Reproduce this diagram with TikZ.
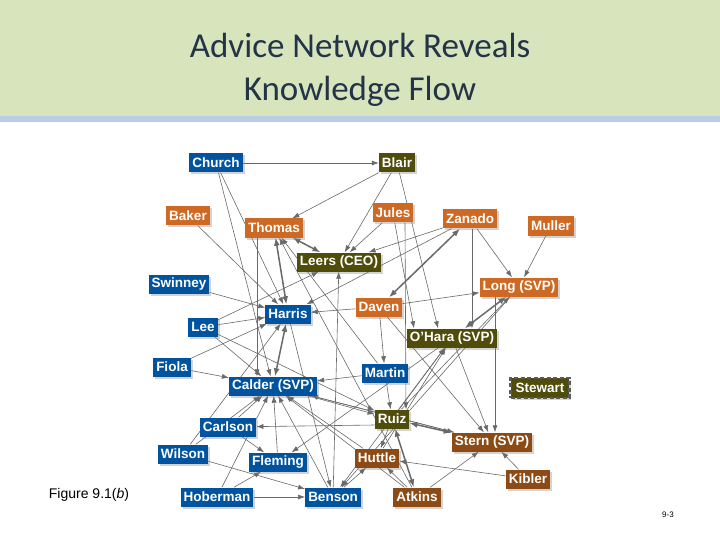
\documentclass[tikz,border=0pt]{standalone}
\usepackage{fontspec}
\setmainfont{Liberation Sans}
\newfontfamily\titlefont{Carlito}
\usepackage{tikz}
\usetikzlibrary{arrows.meta}
\usetikzlibrary{shadows}
\usetikzlibrary{backgrounds}

\definecolor{advblue}{RGB}{0,84,159}
\definecolor{advorange}{RGB}{205,105,35}
\definecolor{advbrown}{RGB}{140,75,20}
\definecolor{advolive}{RGB}{80,76,10}
\definecolor{titleband}{RGB}{216,228,188}
\definecolor{titlerule}{RGB}{185,205,228}
\definecolor{titleink}{RGB}{35,52,72}
\definecolor{linkgray}{RGB}{105,105,105}

\begin{document}
\begin{tikzpicture}[x=1pt, y=-1pt,
    person/.style={text=white, inner xsep=3pt, inner ysep=0pt, minimum height=19pt,
        font=\fontsize{13.5}{15}\selectfont\bfseries,
        drop shadow={opacity=0.35, shadow xshift=2pt, shadow yshift=-2pt}},
    bluebox/.style={person, fill=advblue},
    orangebox/.style={person, fill=advorange},
    brownbox/.style={person, fill=advbrown},
    olivebox/.style={person, fill=advolive},
    advice/.style={-{Latex[length=7pt,width=5pt]}, linkgray, line width=0.6pt},
    mutual/.style={{Latex[length=8pt,width=6pt]}-{Latex[length=8pt,width=6pt]}, linkgray, line width=1.5pt}]

\useasboundingbox (0,0) rectangle (720,540);

% --- 1. TITLE BAND ---
\fill[titleband] (0,0) rectangle (720,116);
\fill[titlerule] (0,116) rectangle (720,122);
\node[titleink, align=center, font=\titlefont\fontsize{35}{43}\selectfont] (title) at (360,70)
    {Advice Network Reveals\\Knowledge Flow};

% --- 2. PEOPLE ---
\node[bluebox] (church) at (216,163) {Church};
\node[olivebox] (blair) at (397,163) {Blair};
\node[orangebox] (baker) at (188,216) {Baker};
\node[orangebox] (jules) at (393,213) {Jules};
\node[orangebox] (thomas) at (274,228) {Thomas};
\node[orangebox] (zanado) at (470,219) {Zanado};
\node[orangebox] (muller) at (551,226) {Muller};
\node[olivebox] (leers) at (339,262) {Leers (CEO)};
\node[bluebox] (swinney) at (179,284) {Swinney};
\node[orangebox] (long) at (519,287) {Long (SVP)};
\node[bluebox] (harris) at (288,314) {Harris};
\node[orangebox] (daven) at (379,307) {Daven};
\node[bluebox] (lee) at (203,327) {Lee};
\node[olivebox] (ohara) at (452,338) {O'Hara (SVP)};
\node[bluebox] (fiola) at (172,367) {Fiola};
\node[bluebox] (martin) at (385,373) {Martin};
\node[bluebox] (calder) at (273,386) {Calder (SVP)};
\node[olivebox, draw=gray!70!black, dash pattern=on 4pt off 2.5pt, line width=2.5pt,
      minimum height=20pt, inner xsep=5pt] (stewart) at (540,388) {Stewart};
\node[olivebox] (ruiz) at (392,419) {Ruiz};
\node[bluebox] (carlson) at (228,427) {Carlson};
\node[brownbox] (stern) at (492,442) {Stern (SVP)};
\node[bluebox] (wilson) at (183,454) {Wilson};
\node[bluebox] (fleming) at (278,462) {Fleming};
\node[brownbox] (huttle) at (377,458) {Huttle};
\node[brownbox] (kibler) at (528,479) {Kibler};
\node[bluebox] (hoberman) at (217,497) {Hoberman};
\node[bluebox] (benson) at (333,497) {Benson};
\node[brownbox] (atkins) at (417,497) {Atkins};

% --- 3. ADVICE TIES (behind the boxes) ---
\begin{scope}[on background layer]
    % upper part
    \draw[advice] (church) -- (blair);
    \draw[advice] (blair) -- (thomas);
    \draw[advice] (blair) -- (leers);
    \draw[advice] (jules) -- (leers);
    \draw[advice] (zanado) -- (leers);
    \draw[advice] (zanado) -- (harris);
    \draw[advice] (church) -- (harris);
    \draw[advice] (church) -- (calder);
    \draw[advice] (baker) -- (harris);
    \draw[advice] (swinney) -- (harris);
    \draw[advice] (muller) -- (long);
    \draw[advice] (zanado) -- (long);
    \draw[advice] ([xshift=2pt]zanado.south) -- ([xshift=20pt]ohara.north);
    \draw[advice] (blair) -- ([xshift=-14pt]ohara.north);
    \draw[advice] (jules) -- ([xshift=-38pt]ohara.north);
    \draw[advice] ([xshift=12pt]jules.south) -- ([xshift=14pt]ruiz.north);
    \draw[mutual] (thomas) -- (leers);
    \draw[mutual] (thomas) -- (harris);
    \draw[mutual] (zanado) -- (daven);
    \draw[mutual] (ohara) -- (long);

    % middle part
    \draw[advice] (lee) -- (leers);
    \draw[advice] (lee) -- (harris);
    \draw[advice] (lee) -- (calder);
    \draw[advice] (lee) -- (ruiz);
    \draw[advice] (fiola) -- (harris);
    \draw[advice] (fiola) -- (calder);
    \draw[advice] ([xshift=-17pt]thomas.south) -- ([xshift=-16pt]calder.north);
    \draw[advice] (daven) -- (harris);
    \draw[advice] (daven) -- (martin);
    \draw[advice] (daven) -- (stern);
    \draw[advice] (daven) -- (long);
    \draw[advice] (martin) -- (ruiz);
    \draw[advice] (martin) -- (calder);
    \draw[advice] (martin) -- (thomas);
    \draw[advice] (ohara) -- (stern);
    \draw[advice] ([xshift=-24pt]long.south) -- ([xshift=3pt]stern.north);
    \draw[advice] (ruiz) -- (ohara);
    \draw[advice] (ruiz) -- (long);
    \draw[advice] (huttle) -- (ohara);
    \draw[advice] (ohara) -- (fleming);
    \draw[advice] (ohara) -- (benson);
    \draw[advice] (long) -- (benson);
    \draw[advice] (calder) -- (stern);
    \draw[advice] (calder) -- (ruiz);
    \draw[advice] (harris) -- (benson);
    \draw[mutual] (harris) -- (calder);

    % lower part
    \draw[advice] (wilson) -- (calder);
    \draw[advice] (wilson) -- (harris);
    \draw[advice] (wilson) -- (benson);
    \draw[advice] (carlson) -- (calder);
    \draw[advice] (carlson) -- (fleming);
    \draw[advice] ([yshift=-6pt]ruiz.west) -- (carlson);
    \draw[advice] (hoberman) -- (benson);
    \draw[advice] (hoberman) -- (fleming);
    \draw[advice] (hoberman) -- (calder);
    \draw[advice] (fleming) -- (calder);
    \draw[advice] (benson) -- (calder);
    \draw[advice] (benson) -- (leers);
    \draw[advice] (benson) -- (huttle);
    \draw[advice] (ruiz) -- (huttle);
    \draw[advice] (kibler) -- (huttle);
    \draw[advice] (kibler) -- (stern);
    \draw[advice] (atkins) -- (stern);
    \draw[advice] (atkins) -- (huttle);
    \draw[advice] (atkins) -- (calder);
    \draw[advice] (atkins) -- (thomas);
    \draw[advice] (stern) -- (calder);
    \draw[advice] (huttle) -- (calder);
    \draw[mutual] (ruiz) -- (atkins);
    \draw[mutual] (ruiz) -- (stern);
\end{scope}

% --- 4. CAPTIONS ---
\node[font=\fontsize{14}{16}\selectfont] (figlabel) at (89,495) {Figure 9.1(\textit{b})};
\node[font=\fontsize{8}{10}\selectfont] (pagenum) at (668,515) {9-3};

\end{tikzpicture}
\end{document}
